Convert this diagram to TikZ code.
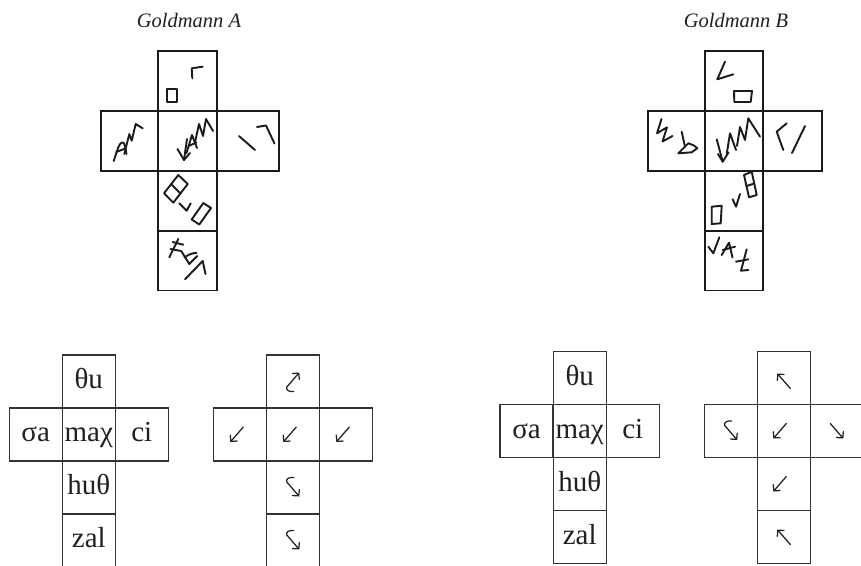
\documentclass[tikz,border=0pt]{standalone}
\usepackage{fontspec}
\setmainfont{Liberation Serif}
\newfontfamily\tabfont{Liberation Serif}
\usetikzlibrary{arrows.meta}
\definecolor{inkc}{HTML}{1A1A1A}
\definecolor{gridc}{HTML}{333333}
\definecolor{textc}{HTML}{231F20}
\begin{document}
\begin{tikzpicture}[x=1pt,y=-1pt,
  ink/.style={draw=inkc, line width=1.9pt, line cap=round, line join=round},
  netcell/.style={draw=inkc, line width=1.8pt, minimum height=59.8pt, inner sep=0pt, outer sep=0pt},
  tcell/.style={draw=gridc, line width=1.1pt, minimum size=53pt, inner sep=0pt, outer sep=0pt,
    text=textc, font=\tabfont\fontsize{29}{29}\selectfont, text height=14pt, text depth=0pt},
  title/.style={anchor=base, text=textc, font=\itshape\fontsize{20.5}{20.5}\selectfont},
  arr/.style={draw=textc, line width=1.25pt, line cap=round,
    -{Straight Barb[length=4.3pt,width=9pt,line cap=round]}},
  swarr/.pic={\draw[arr] (6.5,-7.5) -- (-6.5,7.5);},
  searr/.pic={\draw[arr] (-6.5,-7.5) -- (6.5,7.5);},
  nwarr/.pic={\draw[arr] (6.5,7.5) -- (-6.5,-7.5);},
  hookup/.pic={\draw[arr] (1,10) .. controls (-4,10.5) and (-7,8.5) .. (-6,5.5) -- (6.5,-9);},
  hookdown/.pic={\draw[arr] (1,-10) .. controls (-4,-10.5) and (-7,-8.5) .. (-6,-5.5) -- (6.5,9);}
]
\useasboundingbox (0,0) rectangle (861,565);

% ---------------- titles ----------------
\node[title] (tA) at (189,27) {Goldmann A};
\node[title] (tB) at (736,27) {Goldmann B};

% ---------------- net A (hand drawn) ----------------
\node[netcell, minimum width=59pt] (nA1) at (187.5,80.9) {};
\node[netcell, minimum width=59pt] (nA2) at (187.5,140.8) {};
\node[netcell, minimum width=57.3pt] (nA2l) at (129.4,140.8) {};
\node[netcell, minimum width=62pt] (nA2r) at (248,140.8) {};
\node[netcell, minimum width=59pt] (nA3) at (187.5,200.6) {};
\node[netcell, minimum width=59pt] (nA4) at (187.5,260.5) {};

% top face
\draw[ink] (192.3,78.3) -- (191.7,68.3) -- (202.7,66.7);
\draw[ink] (167.3,89.3) rectangle (177.3,101.7);
% left face
\draw[ink] (113.7,161) -- (118,148) .. controls (120,142) and (124,140) .. (125,146) -- (126.5,154);
\draw[ink] (116.2,152) -- (125.5,148.5);
\draw[ink] (124.3,154) -- (129.3,134) -- (131.7,140.7) -- (135.7,124) -- (142.7,128.3);
% centre face
\draw[ink] (187,139) -- (184,160);
\draw[ink] (177.5,149) -- (184,160) -- (190,153);
\draw[ink] (186.5,153) -- (192,135) -- (197,148);
\draw[ink] (188.5,146) -- (196.5,142.5);
\draw[ink] (195,142) -- (199,124) -- (203,136) -- (206,119) -- (213,131);
% right face
\draw[ink] (239,136) -- (255,150);
\draw[ink] (257,127) -- (266,125.5) -- (274.5,143.5);
% third face
\draw[ink] (178.3,175) -- (187.7,184) -- (173.3,202.7) -- (164,193.3) -- cycle;
\draw[ink] (171.2,184.2) -- (180.5,193.4);
\draw[ink] (179.3,203.3) -- (186.7,210.7) -- (190.7,203.3);
\draw[ink] (191.7,219.5) -- (203.3,203) -- (211,208) -- (199.3,224.5) -- cycle;
% fourth face
\draw[ink] (169.3,257.3) -- (178.3,239);
\draw[ink] (172.7,242) -- (183.3,244.7);
\draw[ink] (170.5,249) -- (181,251);
\draw[ink] (181.7,251.7) -- (189.3,264) -- (197.3,256);
\draw[ink] (184.5,257.5) .. controls (189,254) and (193,253) .. (196.5,253);
\draw[ink] (185,279.3) -- (202.7,261) -- (205.5,274);

% ---------------- net B (hand drawn) ----------------
\node[netcell, minimum width=58.6pt] (nB1) at (734,80.9) {};
\node[netcell, minimum width=58.6pt] (nB2) at (734,140.8) {};
\node[netcell, minimum width=57pt] (nB2l) at (676.2,140.8) {};
\node[netcell, minimum width=58.7pt] (nB2r) at (792.7,140.8) {};
\node[netcell, minimum width=58.6pt] (nB3) at (734,200.6) {};
\node[netcell, minimum width=58.6pt] (nB4) at (734,260.5) {};

% top face
\draw[ink] (725,61.7) -- (717.3,79.3) -- (733.3,74.3);
\draw[ink] (734,91) -- (752,91) -- (750.7,102) -- (734.3,102) -- cycle;
% left face
\draw[ink] (661.5,119) -- (657,133.3) -- (667,127.3) -- (662.5,141.5) -- (672.5,136);
\draw[ink] (681.7,131.7) -- (685,146.7);
\draw[ink] (678.3,153.3) -- (688.3,143.3) .. controls (693,145) and (696,146) .. (697.3,148.3) -- (691.7,152.3) -- cycle;
% centre face
\draw[ink] (716.7,139.3) -- (722.7,161.7);
\draw[ink] (718,154) -- (722.7,161.7) -- (728.5,152.5);
\draw[ink] (726.7,154) -- (730,133.3) -- (736,150);
\draw[ink] (737,146) -- (740,127) -- (745,140) -- (748.3,118.3) -- (760,136.7);
% right face
\draw[ink] (786.7,123.3) -- (776.7,131.7) -- (783.3,150);
\draw[ink] (792,153) -- (805,126);
% third face
\draw[ink] (744,175) -- (751.7,171.7) -- (756.7,195) -- (749,197.3) -- cycle;
\draw[ink] (746.5,186) -- (754.2,183.5);
\draw[ink] (732.7,199.3) -- (736,206.7) -- (740,194);
\draw[ink] (711.7,206.7) -- (721.7,205.7) -- (720.7,223.3) -- (711.7,224) -- cycle;
% fourth face
\draw[ink] (708.3,246.7) -- (713.3,253.3) -- (719.3,237.3);
\draw[ink] (721.7,255) -- (729,242.7) -- (732.5,257.5);
\draw[ink] (722.7,250) -- (735,246.7);
\draw[ink] (746.7,249.3) -- (741,270.7) -- (748.3,270);
\draw[ink] (736,261.7) -- (748.3,259.3);

% ---------------- table A: syllables ----------------
\node[tcell] (sA1) at (88.8,381.5) {θu};
\node[tcell] (sA2l) at (35.7,434.5) {σa};
\node[tcell] (sA2) at (88.8,434.5) {maχ};
\node[tcell] (sA2r) at (141.8,434.5) {ci};
\node[tcell] (sA3) at (88.8,487.5) {huθ};
\node[tcell] (sA4) at (88.8,540.5) {zal};

% ---------------- table A: directions ----------------
\node[tcell] (dA1) at (292.8,381.5) {};
\node[tcell] (dA2l) at (239.8,434.5) {};
\node[tcell] (dA2) at (292.8,434.5) {};
\node[tcell] (dA2r) at (345.8,434.5) {};
\node[tcell] (dA3) at (292.8,487.5) {};
\node[tcell] (dA4) at (292.8,540.5) {};
\pic at (dA1.center) {hookup};
\pic at ([xshift=-3pt]dA2l.center) {swarr};
\pic at ([xshift=-3pt]dA2.center) {swarr};
\pic at ([xshift=-3pt]dA2r.center) {swarr};
\pic at (dA3.center) {hookdown};
\pic at (dA4.center) {hookdown};

% ---------------- table B: syllables ----------------
\node[tcell] (sB1) at (579.7,378) {θu};
\node[tcell] (sB2l) at (526.5,431) {σa};
\node[tcell] (sB2) at (579.7,431) {maχ};
\node[tcell] (sB2r) at (632.8,431) {ci};
\node[tcell] (sB3) at (579.7,484) {huθ};
\node[tcell] (sB4) at (579.7,537) {zal};

% ---------------- table B: directions ----------------
\node[tcell] (dB1) at (783.8,378) {};
\node[tcell] (dB2l) at (730.7,431) {};
\node[tcell] (dB2) at (783.8,431) {};
\node[tcell] (dB2r) at (836.8,431) {};
\node[tcell] (dB3) at (783.8,484) {};
\node[tcell] (dB4) at (783.8,537) {};
\pic at ([yshift=-3pt]dB1.center) {nwarr};
\pic at (dB2l.center) {hookdown};
\pic at ([xshift=-4pt]dB2.center) {swarr};
\pic at (dB2r.center) {searr};
\pic at ([xshift=-4pt]dB3.center) {swarr};
\pic at (dB4.center) {nwarr};
\end{tikzpicture}
\end{document}
